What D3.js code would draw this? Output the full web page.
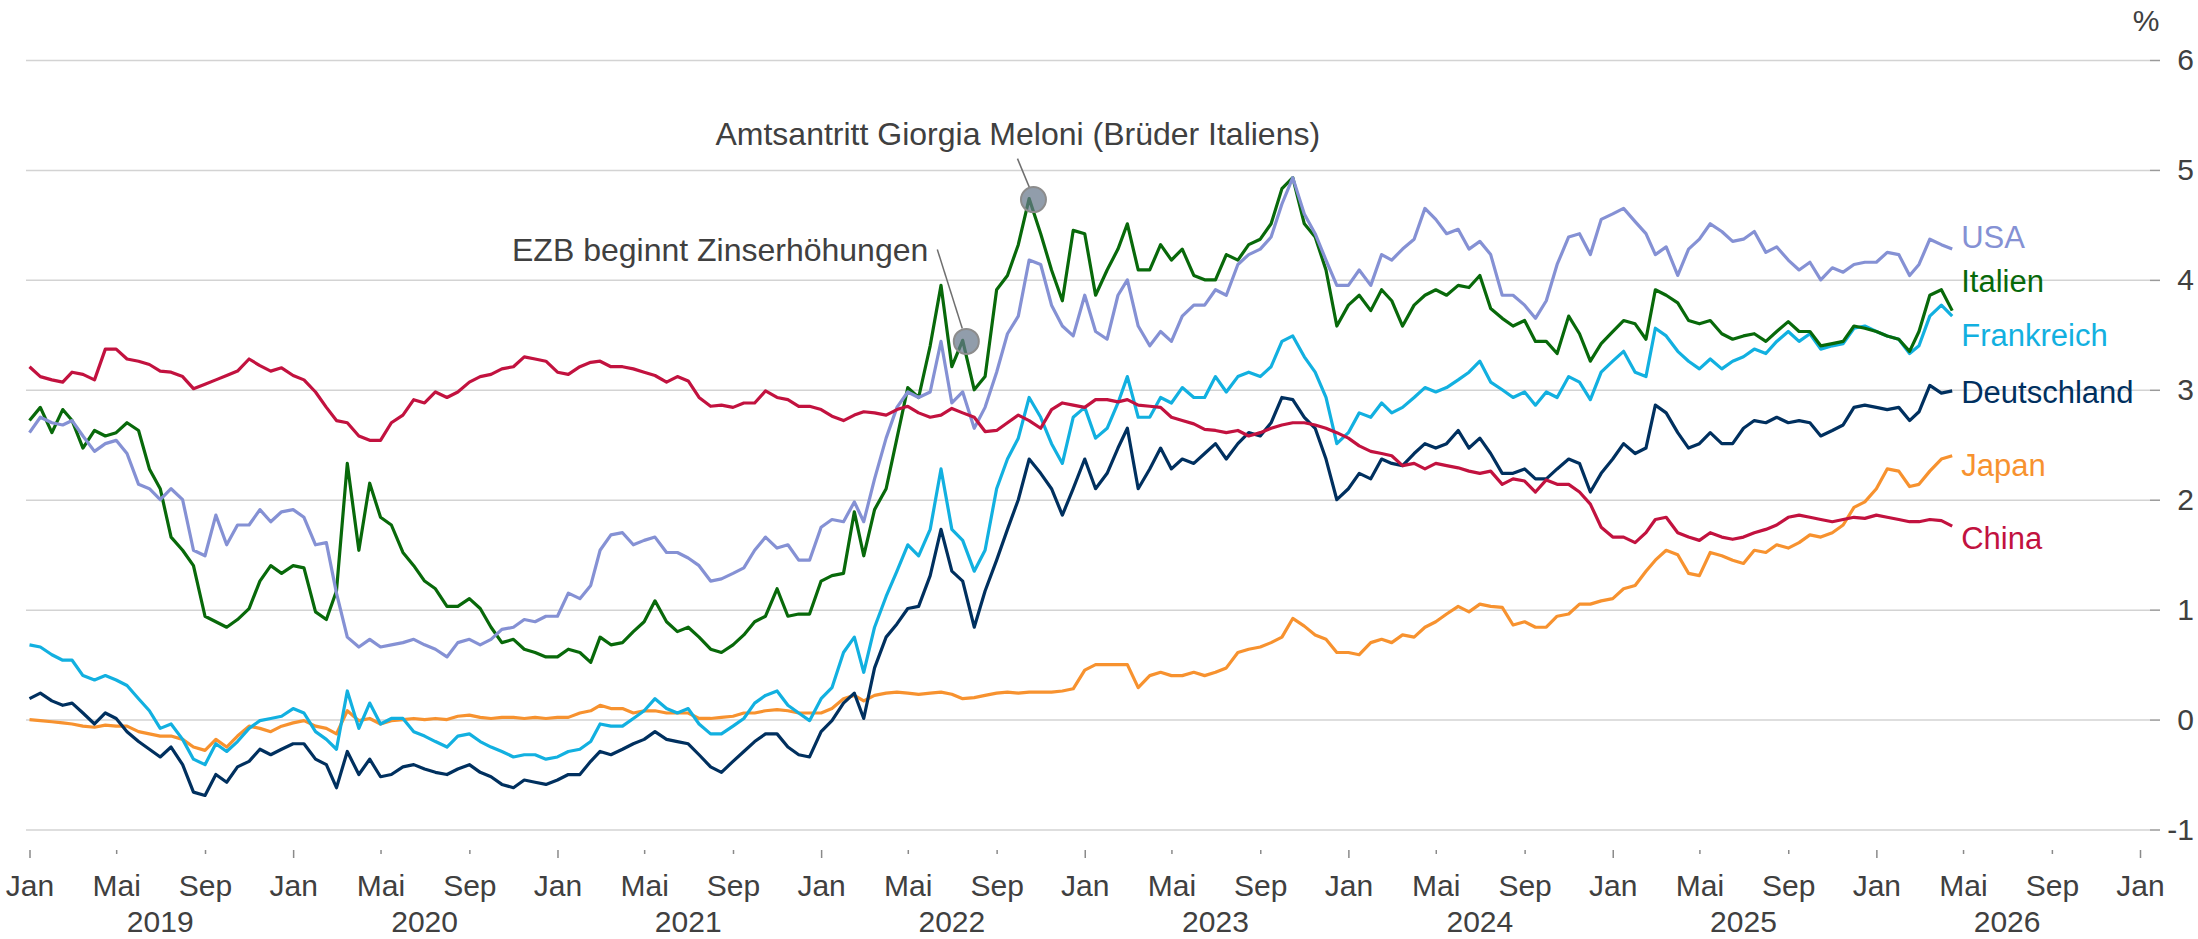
<!DOCTYPE html>
<html>
<head>
<meta charset="utf-8">
<script src="https://cdnjs.cloudflare.com/ajax/libs/d3/7.8.5/d3.min.js"></script>
<style>
  body { margin: 0; background: #ffffff; }
  svg { display: block; font-family: "Liberation Sans", Arial, sans-serif; }
</style>
</head>
<body>
<div id="chart"></div>
<script>
// Rendite 10-jähriger Staatsanleihen, halbmonatlich (1. und 16.), Jan 2019 - Apr 2026

var china = [3.21,3.12,3.09,3.07,3.16,3.14,3.09,3.37,3.37,3.28,3.26,3.23,3.17,3.16,3.12,3.01,3.05,3.09,3.13,3.17,3.28,3.22,3.17,3.20,3.13,3.09,2.98,2.84,2.72,2.70,2.58,
  2.54,2.54,2.70,2.77,2.91,2.88,2.98,2.93,2.98,3.07,3.12,3.14,3.19,3.21,3.30,3.28,3.26,3.16,3.14,3.21,3.25,3.26,3.21,3.21,3.19,3.16,3.13,3.07,3.12,3.08,
  2.93,2.85,2.86,2.84,2.88,2.88,2.99,2.93,2.91,2.85,2.85,2.82,2.76,2.72,2.77,2.80,2.79,2.77,2.82,2.85,2.79,2.75,2.77,2.83,2.79,2.75,2.62,2.63,2.70,2.77,
  2.72,2.65,2.82,2.88,2.86,2.84,2.91,2.91,2.89,2.91,2.86,2.85,2.84,2.75,2.72,2.69,2.64,2.63,2.61,2.63,2.58,2.61,2.65,2.68,2.70,2.70,2.68,2.65,2.61,2.56,
  2.49,2.44,2.42,2.40,2.31,2.33,2.28,2.33,2.31,2.29,2.26,2.24,2.26,2.14,2.19,2.17,2.07,2.18,2.14,2.14,2.07,1.96,1.75,1.66,1.66,1.61,1.70,1.82,1.84,1.70,
  1.66,1.63,1.70,1.66,1.64,1.66,1.70,1.73,1.77,1.84,1.86,1.84,1.82,1.80,1.82,1.84,1.83,1.86,1.84,1.82,1.80,1.80,1.82,1.81,1.76];

var italien = [2.72,2.84,2.61,2.82,2.72,2.47,2.63,2.58,2.61,2.70,2.63,2.28,2.10,1.66,1.54,1.40,0.94,0.89,0.84,0.91,1.01,1.26,1.40,1.33,1.40,1.38,0.98,0.91,1.17,2.33,1.54,
  2.15,1.84,1.77,1.52,1.40,1.26,1.19,1.03,1.03,1.10,1.01,0.84,0.70,0.73,0.64,0.61,0.57,0.57,0.64,0.61,0.52,0.75,0.68,0.70,0.80,0.89,1.08,0.89,0.80,0.84,
  0.75,0.64,0.61,0.68,0.77,0.89,0.94,1.19,0.94,0.96,0.96,1.26,1.31,1.33,1.89,1.49,1.91,2.10,2.56,3.02,2.93,3.40,3.95,3.21,3.45,3.00,3.12,3.91,4.04,4.32,
  4.74,4.42,4.09,3.81,4.45,4.42,3.86,4.09,4.28,4.51,4.09,4.09,4.32,4.18,4.28,4.04,4.00,4.00,4.23,4.18,4.32,4.37,4.51,4.83,4.93,4.51,4.39,4.09,3.58,3.77,
  3.86,3.72,3.91,3.81,3.58,3.77,3.86,3.91,3.86,3.95,3.93,4.04,3.74,3.65,3.58,3.63,3.44,3.44,3.33,3.67,3.51,3.26,3.42,3.53,3.63,3.60,3.46,3.91,3.86,3.79,
  3.63,3.60,3.63,3.51,3.46,3.49,3.51,3.44,3.53,3.62,3.53,3.53,3.40,3.42,3.44,3.58,3.56,3.53,3.49,3.46,3.35,3.53,3.86,3.91,3.72];

var usa = [2.61,2.75,2.70,2.68,2.72,2.58,2.44,2.51,2.54,2.42,2.14,2.10,2.00,2.10,2.00,1.54,1.49,1.86,1.59,1.77,1.77,1.91,1.80,1.89,1.91,1.84,1.59,1.61,1.15,0.75,0.66,
  0.73,0.66,0.68,0.70,0.73,0.68,0.64,0.57,0.70,0.73,0.68,0.73,0.82,0.84,0.91,0.89,0.94,0.94,1.15,1.10,1.22,1.54,1.68,1.70,1.59,1.63,1.66,1.52,1.52,1.47,
  1.40,1.26,1.28,1.33,1.38,1.54,1.66,1.56,1.59,1.45,1.45,1.75,1.82,1.80,1.98,1.80,2.19,2.56,2.84,2.98,2.93,2.98,3.44,2.88,2.98,2.65,2.84,3.16,3.51,3.67,
  4.18,4.14,3.77,3.58,3.49,3.86,3.53,3.46,3.86,4.00,3.58,3.40,3.53,3.44,3.67,3.77,3.77,3.91,3.86,4.14,4.23,4.28,4.39,4.69,4.93,4.60,4.42,4.18,3.95,3.95,
  4.09,3.95,4.23,4.18,4.28,4.37,4.65,4.55,4.42,4.46,4.28,4.35,4.23,3.86,3.86,3.77,3.65,3.81,4.14,4.39,4.42,4.23,4.55,4.60,4.65,4.53,4.42,4.23,4.30,4.04,
  4.28,4.37,4.51,4.44,4.35,4.37,4.44,4.25,4.30,4.18,4.09,4.16,4.00,4.11,4.07,4.14,4.16,4.16,4.25,4.23,4.04,4.14,4.37,4.32,4.28];

var frankreich = [0.68,0.66,0.59,0.54,0.54,0.40,0.36,0.40,0.36,0.31,0.19,0.08,-0.08,-0.04,-0.18,-0.36,-0.41,-0.22,-0.29,-0.20,-0.08,-0.01,0.01,0.03,0.10,0.06,-0.11,-0.18,-0.27,0.26,-0.08,
  0.15,-0.04,0.01,0.01,-0.11,-0.15,-0.20,-0.25,-0.15,-0.13,-0.20,-0.25,-0.29,-0.34,-0.32,-0.32,-0.36,-0.34,-0.29,-0.27,-0.20,-0.04,-0.06,-0.06,0.01,0.08,0.19,0.10,0.06,0.10,
  -0.04,-0.13,-0.13,-0.06,0.01,0.15,0.22,0.26,0.13,0.06,-0.01,0.19,0.29,0.61,0.75,0.43,0.84,1.12,1.35,1.59,1.49,1.73,2.28,1.73,1.63,1.35,1.54,2.10,2.37,2.56,
  2.93,2.75,2.51,2.33,2.75,2.84,2.56,2.65,2.88,3.12,2.75,2.75,2.93,2.88,3.02,2.93,2.93,3.12,2.98,3.12,3.16,3.12,3.21,3.44,3.49,3.30,3.16,2.93,2.51,2.61,
  2.79,2.75,2.88,2.79,2.84,2.93,3.02,2.98,3.02,3.09,3.16,3.26,3.07,3.00,2.93,2.98,2.86,2.98,2.93,3.12,3.07,2.91,3.16,3.26,3.35,3.16,3.12,3.56,3.49,3.35,
  3.26,3.19,3.28,3.19,3.26,3.30,3.37,3.33,3.44,3.53,3.44,3.51,3.37,3.40,3.42,3.56,3.58,3.53,3.49,3.46,3.33,3.40,3.67,3.77,3.67];

var deutschland = [0.19,0.24,0.17,0.13,0.15,0.06,-0.04,0.06,0.01,-0.11,-0.20,-0.27,-0.34,-0.25,-0.41,-0.66,-0.69,-0.50,-0.57,-0.43,-0.38,-0.27,-0.32,-0.27,-0.22,-0.22,-0.36,-0.41,-0.62,-0.29,-0.50,
  -0.36,-0.52,-0.50,-0.43,-0.41,-0.45,-0.48,-0.50,-0.45,-0.41,-0.48,-0.52,-0.59,-0.62,-0.55,-0.57,-0.59,-0.55,-0.50,-0.50,-0.38,-0.29,-0.32,-0.27,-0.22,-0.18,-0.11,-0.18,-0.20,-0.22,
  -0.32,-0.43,-0.48,-0.38,-0.29,-0.20,-0.13,-0.13,-0.25,-0.32,-0.34,-0.11,-0.01,0.15,0.24,0.01,0.47,0.75,0.87,1.01,1.03,1.31,1.73,1.35,1.26,0.84,1.17,1.45,1.73,2.00,
  2.37,2.24,2.10,1.86,2.10,2.37,2.10,2.24,2.47,2.65,2.10,2.28,2.47,2.28,2.37,2.33,2.42,2.51,2.37,2.51,2.61,2.58,2.70,2.93,2.91,2.75,2.65,2.37,2.00,2.10,
  2.24,2.19,2.37,2.33,2.31,2.42,2.51,2.47,2.51,2.63,2.47,2.56,2.42,2.24,2.24,2.28,2.19,2.19,2.28,2.37,2.33,2.07,2.24,2.37,2.51,2.42,2.47,2.86,2.79,2.61,
  2.47,2.51,2.61,2.51,2.51,2.65,2.72,2.70,2.75,2.70,2.72,2.70,2.58,2.63,2.68,2.84,2.86,2.84,2.82,2.84,2.72,2.80,3.04,2.97,2.99];

var japan = [0.00,-0.01,-0.02,-0.03,-0.04,-0.06,-0.07,-0.05,-0.06,-0.06,-0.11,-0.13,-0.15,-0.15,-0.18,-0.25,-0.28,-0.18,-0.25,-0.15,-0.06,-0.08,-0.11,-0.06,-0.03,-0.01,-0.06,-0.08,-0.13,0.08,-0.01,
  0.01,-0.04,-0.01,0.00,0.01,0.00,0.01,0.00,0.03,0.04,0.02,0.01,0.02,0.02,0.01,0.02,0.01,0.02,0.02,0.06,0.08,0.13,0.10,0.10,0.06,0.08,0.08,0.06,0.06,0.06,
  0.01,0.01,0.02,0.03,0.06,0.06,0.08,0.09,0.08,0.06,0.06,0.06,0.10,0.19,0.22,0.17,0.22,0.24,0.25,0.24,0.23,0.24,0.25,0.23,0.19,0.20,0.22,0.24,0.25,0.24,
  0.25,0.25,0.25,0.26,0.28,0.45,0.50,0.50,0.50,0.50,0.29,0.40,0.43,0.40,0.40,0.43,0.40,0.43,0.47,0.61,0.64,0.66,0.70,0.75,0.92,0.85,0.77,0.73,0.61,0.61,
  0.59,0.70,0.73,0.70,0.77,0.75,0.84,0.89,0.96,1.03,0.98,1.05,1.03,1.02,0.86,0.89,0.84,0.84,0.94,0.96,1.05,1.05,1.08,1.10,1.19,1.22,1.35,1.45,1.54,1.50,
  1.33,1.31,1.52,1.49,1.45,1.42,1.54,1.52,1.59,1.56,1.61,1.68,1.66,1.70,1.77,1.93,1.98,2.10,2.28,2.26,2.12,2.14,2.26,2.37,2.40];

// Serien (Zeichenreihenfolge) und Beschriftungshöhe in %
var seriesNames = ["Japan", "Deutschland", "Frankreich", "Italien", "USA", "China"];
var seriesValues = [japan, deutschland, frankreich, italien, usa, china];
var seriesColors = ["#f7922f", "#00305f", "#12b0e0", "#08690a", "#8591d4", "#c2123f"];
var labelLevels = [2.31, 2.98, 3.50, 3.99, 4.39, 1.65];

// Achsen
var yTicks = [-1, 0, 1, 2, 3, 4, 5, 6];
var years = [2019, 2020, 2021, 2022, 2023, 2024, 2025, 2026];
var tickMonths = [0, 4, 8];
var monthLabels = {0: "Jan", 4: "Mai", 8: "Sep"};

// Annotationen
var annotations = [
  {text: "EZB beginnt Zinserhöhungen", date: new Date(2022, 6, 21), value: 3.44},
  {text: "Amtsantritt Giorgia Meloni (Brüder Italiens)", date: new Date(2022, 9, 22), value: 4.73}
];

// Halbmonatliche Datumsreihe
var dates = d3.range(usa.length).map(i =>
  new Date(years[0] + Math.floor(i / 24), Math.floor((i % 24) / 2), i % 2 ? 16 : 1));

var svgWidth = 2198;
var svgHeight = 939;

var svg = d3.select("#chart")
  .append("svg")
  .attr("width", svgWidth)
  .attr("height", svgHeight);

// Skalen
var x = d3.scaleTime()
  .domain([new Date(2019, 0, 1), new Date(2027, 0, 1)])
  .range([29.5, 2140]);

var y = d3.scaleLinear()
  .domain([-1, 6])
  .range([829.5, 60]);

var gridLeft = 26;
var gridRight = 2150;

// Gitterlinien
svg.append("g")
  .attr("transform", `translate(${gridRight}, 0)`)
  .call(d3.axisLeft(y).tickValues(yTicks).tickSize(gridRight - gridLeft).tickFormat(""))
  .call(g => g.select(".domain").remove())
  .call(g => g.selectAll("line").attr("stroke", "#d3d3d3").attr("stroke-width", 1.5));

// y-Achse rechts
var yAxis = svg.append("g")
  .attr("transform", `translate(${gridRight}, 0)`)
  .call(d3.axisRight(y).tickValues(yTicks).tickSize(10).tickFormat(d => d < 0 ? "-" + Math.abs(d) : d));

yAxis.select(".domain").remove();
yAxis.selectAll("line").attr("stroke", "#9a9a9a").attr("stroke-width", 1.5);
yAxis.selectAll("text")
  .attr("x", 44)
  .attr("text-anchor", "end")
  .attr("font-size", 30)
  .attr("fill", "#404040")
  .attr("font-family", "Liberation Sans, Arial, sans-serif");

svg.append("text")
  .attr("x", gridRight - 4)
  .attr("y", 31)
  .attr("text-anchor", "middle")
  .attr("font-size", 30)
  .attr("fill", "#404040")
  .text("%");

// x-Achse
var xTickDates = [];
years.forEach(yr => tickMonths.forEach(m => xTickDates.push(new Date(yr, m, 1))));
xTickDates.push(new Date(years[years.length - 1] + 1, 0, 1));

var xAxis = svg.append("g")
  .attr("transform", "translate(0, 850)")
  .call(d3.axisBottom(x).tickValues(xTickDates).tickFormat(d => monthLabels[d.getMonth()]));

xAxis.select(".domain").remove();
xAxis.selectAll("line")
  .attr("stroke", "#8a8a8a")
  .attr("stroke-width", 1.5)
  .attr("y2", d => d.getMonth() === 0 ? 8 : 4);
xAxis.selectAll("text")
  .attr("y", 46)
  .attr("dy", 0)
  .attr("font-size", 30)
  .attr("fill", "#404040")
  .attr("font-family", "Liberation Sans, Arial, sans-serif");

svg.append("g")
  .selectAll("text")
  .data(years)
  .enter()
  .append("text")
  .attr("x", d => x(new Date(d, 6, 1)))
  .attr("y", 932)
  .attr("text-anchor", "middle")
  .attr("font-size", 30)
  .attr("fill", "#404040")
  .text(d => d);

// Linien
var line = d3.line()
  .x((d, i) => x(dates[i]))
  .y(d => y(d));

svg.append("g")
  .selectAll("path")
  .data(seriesValues)
  .enter()
  .append("path")
  .attr("d", d => line(d))
  .attr("fill", "none")
  .attr("stroke", (d, i) => seriesColors[i])
  .attr("stroke-width", 3.2)
  .attr("stroke-linejoin", "round");

// Serienbeschriftung am Linienende
var lastDate = dates[dates.length - 1];
svg.append("g")
  .selectAll("text")
  .data(seriesNames)
  .enter()
  .append("text")
  .attr("x", x(lastDate) + 9)
  .attr("y", (d, i) => y(labelLevels[i]))
  .attr("dy", "0.35em")
  .attr("font-size", 31)
  .attr("fill", (d, i) => seriesColors[i])
  .text(d => d);

// Annotationen
var ezb = annotations[0];
var ezbX = x(ezb.date), ezbY = y(ezb.value);
svg.append("line")
  .attr("x1", ezbX - 29).attr("y1", ezbY - 92)
  .attr("x2", ezbX - 4).attr("y2", ezbY - 13)
  .attr("stroke", "#6f6f6f").attr("stroke-width", 1.5);
svg.append("text")
  .attr("x", ezbX - 38)
  .attr("y", ezbY - 80)
  .attr("text-anchor", "end")
  .attr("font-size", 32)
  .attr("fill", "#404040")
  .text(ezb.text);

var mel = annotations[1];
var melX = x(mel.date), melY = y(mel.value);
svg.append("line")
  .attr("x1", melX - 16).attr("y1", melY - 41)
  .attr("x2", melX - 4).attr("y2", melY - 12)
  .attr("stroke", "#6f6f6f").attr("stroke-width", 1.5);
svg.append("text")
  .attr("x", melX - 318)
  .attr("y", melY - 55)
  .attr("font-size", 32)
  .attr("fill", "#404040")
  .text(mel.text);

svg.append("g")
  .selectAll("circle")
  .data(annotations)
  .enter()
  .append("circle")
  .attr("cx", d => x(d.date))
  .attr("cy", d => y(d.value))
  .attr("r", 12.5)
  .attr("fill", "#66778a")
  .attr("fill-opacity", 0.72)
  .attr("stroke", "#8c8c8c")
  .attr("stroke-width", 2);
</script>
</body>
</html>
